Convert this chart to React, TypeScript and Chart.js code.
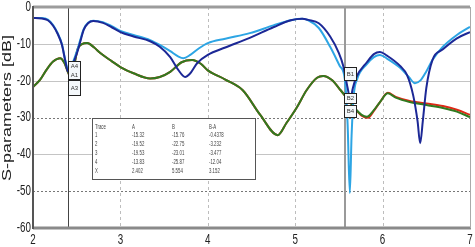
import { useEffect, useRef } from "react";
import { Chart, registerables } from "chart.js";

Chart.register(...registerables);

const xTicks = [2, 3, 4, 5, 6, 7];
const yTicks = [0, -10, -20, -30, -40, -50, -60];
const yTitle = "S-parameters [dB]";

const darkBlue: [number, number][] = [
  [2.0, -3.0], [2.1, -3.1], [2.17, -3.6], [2.23, -5.1], [2.28, -7.2], [2.33, -10.2], [2.37, -14.7],
  [2.4, -17.5], [2.44, -16.5], [2.48, -14], [2.51, -12], [2.54, -9.5], [2.58, -6.2], [2.63, -4.4],
  [2.69, -3.8], [2.8, -4.3], [2.9, -5.5], [3.0, -6.8], [3.15, -8], [3.34, -9.3], [3.45, -10.8],
  [3.57, -13.6], [3.66, -17], [3.74, -19], [3.8, -18], [3.88, -15.2], [4.0, -13], [4.2, -11],
  [4.48, -8.4], [4.75, -5.5], [4.95, -3.6], [5.08, -3.2], [5.15, -3.5], [5.27, -4.4], [5.4, -8],
  [5.5, -12.5], [5.55, -16], [5.6, -22], [5.63, -25], [5.66, -22], [5.7, -19], [5.82, -15],
  [5.9, -12.8], [5.97, -12.2], [6.05, -13.2], [6.2, -16], [6.28, -18.5], [6.35, -24], [6.4, -31],
  [6.43, -37], [6.46, -31], [6.5, -22], [6.57, -14.4], [6.69, -11.5], [6.85, -8.5], [7.0, -6.8],
];

const lightBlue: [number, number][] = [
  [2.0, -3.0], [2.1, -3.0], [2.17, -3.4], [2.23, -4.9], [2.28, -7], [2.33, -10], [2.37, -14.5],
  [2.4, -17], [2.44, -16], [2.48, -13.5], [2.51, -11.5], [2.54, -9], [2.58, -6], [2.63, -4.3],
  [2.69, -3.7], [2.8, -4.1], [2.9, -5.2], [3.0, -6.5], [3.15, -7.6], [3.34, -9], [3.45, -10.3],
  [3.57, -12], [3.66, -13.4], [3.72, -13.9], [3.8, -13], [3.9, -11.2], [4.0, -9.8], [4.2, -8.6],
  [4.48, -7.1], [4.75, -5], [4.95, -3.6], [5.08, -3.2], [5.15, -3.6], [5.27, -5.7], [5.4, -10.8],
  [5.51, -16], [5.57, -20], [5.6, -32], [5.625, -50.5], [5.645, -35], [5.67, -24], [5.71, -19.5],
  [5.82, -15.5], [5.9, -13.6], [5.97, -13], [6.05, -14], [6.2, -16.5], [6.3, -19], [6.37, -20.7],
  [6.43, -20], [6.5, -17.5], [6.57, -14.4], [6.69, -10.8], [6.85, -7.6], [7.0, -5.4],
];

const green: [number, number][] = [
  [2.0, -21.7], [2.08, -19.8], [2.15, -17.2], [2.23, -14.8], [2.31, -13.9], [2.36, -15.2],
  [2.4, -17.7], [2.43, -19], [2.47, -16], [2.51, -11.5], [2.56, -10.1], [2.62, -9.8], [2.7, -11],
  [2.77, -12.5], [2.9, -14.7], [3.0, -16.3], [3.15, -18], [3.34, -19.4], [3.45, -19], [3.57, -17.6],
  [3.7, -15], [3.82, -14.4], [3.92, -15.4], [4.0, -17.2], [4.2, -19.7], [4.4, -22.6], [4.6, -29.3],
  [4.8, -34.8], [4.9, -31.5], [5.02, -27.2], [5.13, -22.6], [5.25, -19.2], [5.32, -18.7],
  [5.42, -19.8], [5.52, -22.6], [5.6, -25], [5.68, -27.4], [5.76, -29.3], [5.82, -29.8], [5.9, -28],
  [5.97, -25.8], [6.06, -23.4], [6.15, -24.6], [6.31, -25.8], [6.5, -26.6], [6.69, -27.4],
  [6.85, -28.4], [7.0, -29.9],
];

const red: [number, number][] = [
  [2.0, -21.7], [2.08, -19.8], [2.15, -17.2], [2.23, -14.8], [2.31, -13.9], [2.36, -15.2],
  [2.4, -17.7], [2.43, -19], [2.47, -16], [2.51, -11.5], [2.56, -10.1], [2.62, -9.8], [2.7, -11],
  [2.77, -12.5], [2.9, -14.7], [3.0, -16.3], [3.15, -18], [3.34, -19.4], [3.45, -19], [3.57, -17.6],
  [3.7, -15], [3.82, -14.4], [3.92, -15.4], [4.0, -17.2], [4.2, -19.7], [4.4, -22.6], [4.6, -29.3],
  [4.8, -34.8], [4.9, -31.5], [5.02, -27.2], [5.13, -22.6], [5.25, -19.2], [5.32, -18.7],
  [5.42, -19.8], [5.52, -22.6], [5.6, -25], [5.68, -27.5], [5.76, -29.5], [5.83, -30.1], [5.9, -28.2],
  [5.97, -25.8], [6.06, -23.3], [6.15, -24.4], [6.31, -25.5], [6.5, -26.2], [6.69, -26.9],
  [6.85, -27.9], [7.0, -29.3],
];

const markerAX = 2.402;
const markerBX = 5.554;
const tableHeader = ["Trace", "A", "B", "B-A"];
const markerTraces = ["1", "2", "3", "4", "X"];
const markerA = ["-15.32", "-19.52", "-19.53", "-13.83", "2.402"];
const markerB = ["-15.76", "-22.75", "-23.01", "-25.87", "5.554"];
const markerBA = ["-0.4378", "-3.232", "-3.477", "-12.04", "3.152"];
// marker label boxes: [marker x, top value, bottom value, labels]
const markerBoxes: [number, number, number, string[]][] = [
  [markerAX, -14.7, -19.6, ["A4", "A1"]],
  [markerAX, -19.8, -23.9, ["A3"]],
  [markerBX, -16.3, -19.8, ["B1"]],
  [markerBX, -23.4, -26.1, ["B2"]],
  [markerBX, -26.6, -29.9, ["B4"]],
];

const FONT = '"Liberation Sans", Arial, sans-serif';

const decorPlugin = {
  id: "decor",
  beforeDatasetsDraw(chart: any) {
    const { ctx, chartArea: a, scales } = chart;
    const x = scales.x;
    const y = scales.y;
    ctx.save();
    ctx.lineWidth = 1;
    ctx.strokeStyle = "#bdbdbd";
    ctx.setLineDash([3, 3]);
    for (const v of xTicks) {
      if (v === xTicks[0] || v === xTicks[xTicks.length - 1]) continue;
      const px = Math.round(x.getPixelForValue(v)) + 0.5;
      ctx.beginPath();
      ctx.moveTo(px, a.top);
      ctx.lineTo(px, a.bottom);
      ctx.stroke();
    }
    for (const v of yTicks) {
      if (v === 0 || v === -60) continue;
      const dark = v === -30 || v === -50;
      ctx.strokeStyle = dark ? "#777" : "#c4c4c4";
      ctx.setLineDash(dark ? [2, 2] : []);
      const py = Math.round(y.getPixelForValue(v)) + 0.5;
      ctx.beginPath();
      ctx.moveTo(a.left, py);
      ctx.lineTo(a.right, py);
      ctx.stroke();
    }
    ctx.setLineDash([]);
    const ax = Math.round(x.getPixelForValue(markerAX)) + 0.5;
    ctx.strokeStyle = "#444";
    ctx.lineWidth = 1;
    ctx.beginPath();
    ctx.moveTo(ax, a.top);
    ctx.lineTo(ax, a.bottom);
    ctx.stroke();
    const bx = Math.round(x.getPixelForValue(markerBX)) + 1;
    ctx.strokeStyle = "#9a9a9a";
    ctx.lineWidth = 2;
    ctx.beginPath();
    ctx.moveTo(bx, a.top);
    ctx.lineTo(bx, a.bottom);
    ctx.stroke();
    ctx.restore();
  },
  afterDatasetsDraw(chart: any) {
    const { ctx, chartArea: a, scales } = chart;
    const x = scales.x;
    const y = scales.y;
    ctx.save();
    ctx.strokeStyle = "#9c9c9c";
    ctx.lineWidth = 3;
    ctx.beginPath();
    ctx.moveTo(a.left, a.top);
    ctx.lineTo(a.right, a.top);
    ctx.stroke();
    ctx.strokeStyle = "#8a8a8a";
    ctx.beginPath();
    ctx.moveTo(a.left, a.bottom);
    ctx.lineTo(a.right + 1, a.bottom);
    ctx.stroke();
    ctx.strokeStyle = "#aaa";
    ctx.lineWidth = 1;
    ctx.beginPath();
    ctx.moveTo(a.right + 0.5, a.top);
    ctx.lineTo(a.right + 0.5, a.bottom);
    ctx.stroke();
    ctx.strokeStyle = "#555";
    ctx.lineWidth = 2;
    ctx.beginPath();
    ctx.moveTo(a.left, a.top - 1);
    ctx.lineTo(a.left, a.bottom + 1);
    ctx.stroke();

    for (const [mx, top, bot, labels] of markerBoxes) {
      const px = Math.round(x.getPixelForValue(mx)) + 0.5;
      const t = Math.round(y.getPixelForValue(top)) + 0.5;
      const b = Math.round(y.getPixelForValue(bot)) + 0.5;
      ctx.fillStyle = "#f4f8fb";
      ctx.fillRect(px, t, 12, b - t);
      ctx.strokeStyle = "#222";
      ctx.lineWidth = 1;
      ctx.strokeRect(px, t, 12, b - t);
      ctx.fillStyle = "#333";
      ctx.font = `6px ${FONT}`;
      ctx.textAlign = "center";
      ctx.textBaseline = "middle";
      const step = (b - t) / labels.length;
      labels.forEach((l, i) => {
        ctx.fillText(l, px + 6, t + step * (i + 0.5));
      });
    }

    const tx = 92, ty = 118, tw = 163, th = 61;
    ctx.fillStyle = "#fff";
    ctx.fillRect(tx, ty, tw, th);
    ctx.strokeStyle = "#555";
    ctx.lineWidth = 1;
    ctx.strokeRect(tx + 0.5, ty + 0.5, tw, th);
    const cols = [95, 132, 172, 209];
    const rowY = [127, 135, 144, 153, 162, 171];
    ctx.fillStyle = "#444";
    ctx.textAlign = "left";
    ctx.textBaseline = "middle";
    const drawSmall = (s: string, cx: number, cy: number) => {
      ctx.save();
      ctx.translate(cx, cy);
      ctx.scale(0.62, 1);
      ctx.font = `7px ${FONT}`;
      ctx.fillText(s, 0, 0);
      ctx.restore();
    };
    tableHeader.forEach((h, i) => drawSmall(h, cols[i], rowY[0]));
    markerTraces.forEach((tr, r) => {
      drawSmall(tr, cols[0], rowY[r + 1]);
      drawSmall(markerA[r], cols[1], rowY[r + 1]);
      drawSmall(markerB[r], cols[2], rowY[r + 1]);
      drawSmall(markerBA[r], cols[3], rowY[r + 1]);
    });
    ctx.restore();
  },
  afterDraw(chart: any) {
    const { ctx, chartArea: a, scales } = chart;
    const x = scales.x;
    const y = scales.y;
    ctx.save();
    ctx.fillStyle = "#222";
    ctx.font = `14px ${FONT}`;
    ctx.textBaseline = "middle";
    ctx.textAlign = "right";
    for (const v of yTicks) {
      ctx.save();
      ctx.translate(31, y.getPixelForValue(v));
      ctx.scale(0.7, 1);
      ctx.fillText(String(v), 0, 0);
      ctx.restore();
    }
    ctx.textAlign = "center";
    for (const v of xTicks) {
      ctx.save();
      ctx.translate(x.getPixelForValue(v), a.bottom + 12);
      ctx.scale(0.7, 1);
      ctx.fillText(String(v), 0, 0);
      ctx.restore();
    }
    ctx.save();
    ctx.translate(10.5, 108);
    ctx.rotate(-Math.PI / 2);
    ctx.scale(1, 0.7);
    ctx.font = `18px ${FONT}`;
    ctx.textAlign = "center";
    ctx.textBaseline = "alphabetic";
    ctx.fillText(yTitle, 0, 0);
    ctx.restore();
    ctx.restore();
  },
};

const toPoints = (arr: [number, number][]) => arr.map(([px, py]) => ({ x: px, y: py }));

export default function App() {
  const ref = useRef<HTMLCanvasElement>(null);
  useEffect(() => {
    if (!ref.current) return;
    const mk = (label: string, data: [number, number][], color: string) => ({
      label,
      data: toPoints(data),
      borderColor: color,
      backgroundColor: color,
      borderWidth: 2,
      pointRadius: 0,
      cubicInterpolationMode: "monotone" as const,
      fill: false,
    });
    const chart = new Chart(ref.current, {
      type: "line",
      data: {
        datasets: [
          mk("Trace 2", darkBlue, "rgb(28,40,150)"),
          mk("Trace 1", lightBlue, "rgb(45,165,228)"),
          mk("Trace 3", green, "rgb(48,122,32)"),
          mk("Trace 4", red, "rgb(222,40,22)"),
        ],
      },
      options: {
        animation: false,
        responsive: false,
        maintainAspectRatio: false,
        layout: { padding: { left: 0, right: 5, top: 7, bottom: 0 } },
        plugins: { legend: { display: false }, tooltip: { enabled: false } },
        scales: {
          x: {
            type: "linear",
            min: 2,
            max: 7,
            grid: { display: false },
            border: { display: false },
            ticks: { display: false },
            afterFit: (s: any) => {
              s.height = 19;
            },
          },
          y: {
            type: "linear",
            min: -60,
            max: 0,
            grid: { display: false },
            border: { display: false },
            ticks: { display: false },
            afterFit: (s: any) => {
              s.width = 33;
            },
          },
        },
      },
      plugins: [decorPlugin],
    });
    return () => chart.destroy();
  }, []);
  return (
    <div style={{ position: "absolute", left: 0, top: 0, width: 475, height: 247, background: "#fff" }}>
      <canvas ref={ref} width={475} height={247} style={{ display: "block" }} />
    </div>
  );
}
